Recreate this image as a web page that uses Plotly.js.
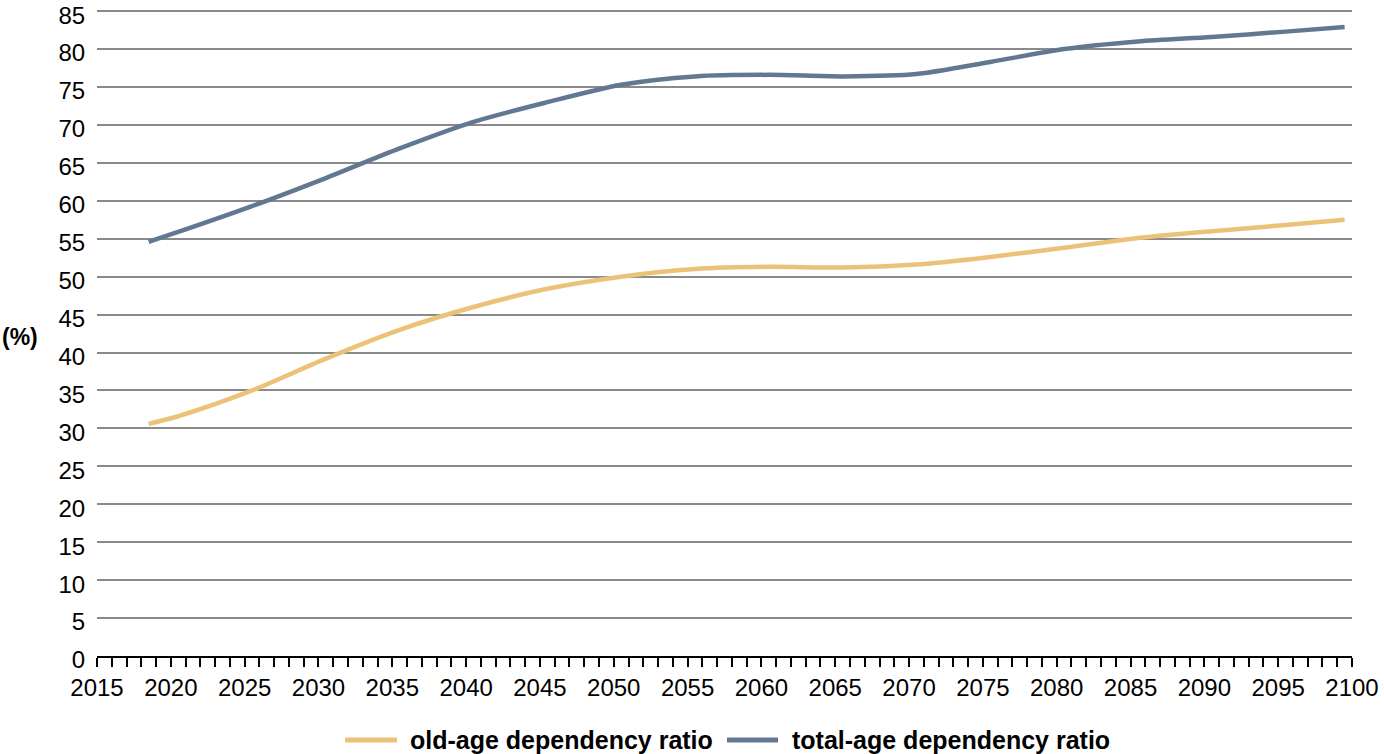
<!DOCTYPE html>
<html>
<head>
<meta charset="utf-8">
<script src="https://cdn.plot.ly/plotly-3.0.1.min.js"></script>
<style>
  html, body { margin: 0; padding: 0; background: #fff; }
  #chart { width: 1384px; height: 754px; }
</style>
</head>
<body>
<div id="chart"></div>
<script>
// Years (data points are drawn at the middle of each yearly category)
const years = [2018, 2020, 2025, 2030, 2035, 2040, 2045, 2050, 2055, 2060, 2065, 2070, 2075, 2080, 2085, 2090, 2095, 2099];
// Old-age dependency ratio (%)
const oldAge = [30.6, 31.6, 35.0, 39.2, 43.0, 46.0, 48.4, 50.0, 51.0, 51.3, 51.2, 51.6, 52.6, 53.8, 55.1, 56.0, 56.8, 57.5];
// Total-age dependency ratio (%)
const totalAge = [54.6, 55.9, 59.3, 63.0, 66.9, 70.4, 73.0, 75.3, 76.4, 76.6, 76.4, 76.7, 78.3, 80.0, 81.0, 81.6, 82.3, 82.9];
const seriesNames = ['old-age dependency ratio', 'total-age dependency ratio'];
const seriesColors = ['#ECC278', '#627891'];
const yTitle = '(%)';

const xPos = years.map(y => y + 0.5);
const font = 'Liberation Sans, Arial, sans-serif';

// plot area geometry (pixels) used to place the hand-made legend
const W = 1384, H = 754;
const M = { l: 97, r: 32, t: 10, b: 98 };
const plotW = W - M.l - M.r, plotH = H - M.t - M.b;
const px = x => (x - M.l) / plotW;
const py = y => (H - M.b - y) / plotH;

const traces = [
  {
    x: xPos, y: oldAge, name: seriesNames[0], type: 'scatter', mode: 'lines',
    line: { color: seriesColors[0], width: 4.5, shape: 'spline', smoothing: 0.8 }
  },
  {
    x: xPos, y: totalAge, name: seriesNames[1], type: 'scatter', mode: 'lines',
    line: { color: seriesColors[1], width: 4.5, shape: 'spline', smoothing: 0.8 }
  }
];

const legendY = 740;
const legendItems = [
  { x0: 345, x1: 397, tx: 408 },
  { x0: 727, x1: 778, tx: 790 }
];

const shapes = legendItems.map((it, i) => ({
  type: 'line', xref: 'paper', yref: 'paper',
  x0: px(it.x0), x1: px(it.x1), y0: py(legendY), y1: py(legendY),
  line: { color: seriesColors[i], width: 5 }
}));

const annotations = [
  {
    text: yTitle, xref: 'paper', yref: 'y', x: 0, y: 42, xshift: -77,
    xanchor: 'center', yanchor: 'middle', showarrow: false,
    font: { family: font, size: 23, weight: 'bold', color: '#000' }
  }
].concat(legendItems.map((it, i) => ({
  text: seriesNames[i], xref: 'paper', yref: 'paper',
  x: px(it.tx), y: py(legendY), xanchor: 'left', yanchor: 'middle',
  showarrow: false,
  font: { family: font, size: 25, weight: 'bold', color: '#000' }
})));

const layout = {
  width: W, height: H,
  margin: M,
  paper_bgcolor: '#ffffff', plot_bgcolor: '#ffffff',
  font: { family: font, size: 24, color: '#000' },
  showlegend: false,
  xaxis: {
    range: [2015, 2100], dtick: 5, tick0: 2015,
    showgrid: false, zeroline: false, automargin: false,
    showline: true, linecolor: '#000', linewidth: 2,
    ticks: 'outside', ticklen: 9, tickwidth: 2, tickcolor: '#000',
    minor: { dtick: 1, ticks: 'outside', ticklen: 9, tickwidth: 2, tickcolor: '#000', showgrid: false },
    tickfont: { family: font, size: 24, color: '#000' },
    fixedrange: true
  },
  yaxis: {
    range: [0, 85.15], dtick: 5, tick0: 0,
    showgrid: true, gridcolor: '#8a8a8a', gridwidth: 2,
    zeroline: false, showline: false, automargin: false,
    ticklabeloverflow: 'allow', ticklabelshift: 4,
    ticks: 'outside', ticklen: 6, tickcolor: 'rgba(0,0,0,0)',
    tickfont: { family: font, size: 24, color: '#000' },
    fixedrange: true
  },
  shapes: shapes,
  annotations: annotations
};

Plotly.newPlot('chart', traces, layout, { displayModeBar: false, staticPlot: true });
</script>
</body>
</html>
